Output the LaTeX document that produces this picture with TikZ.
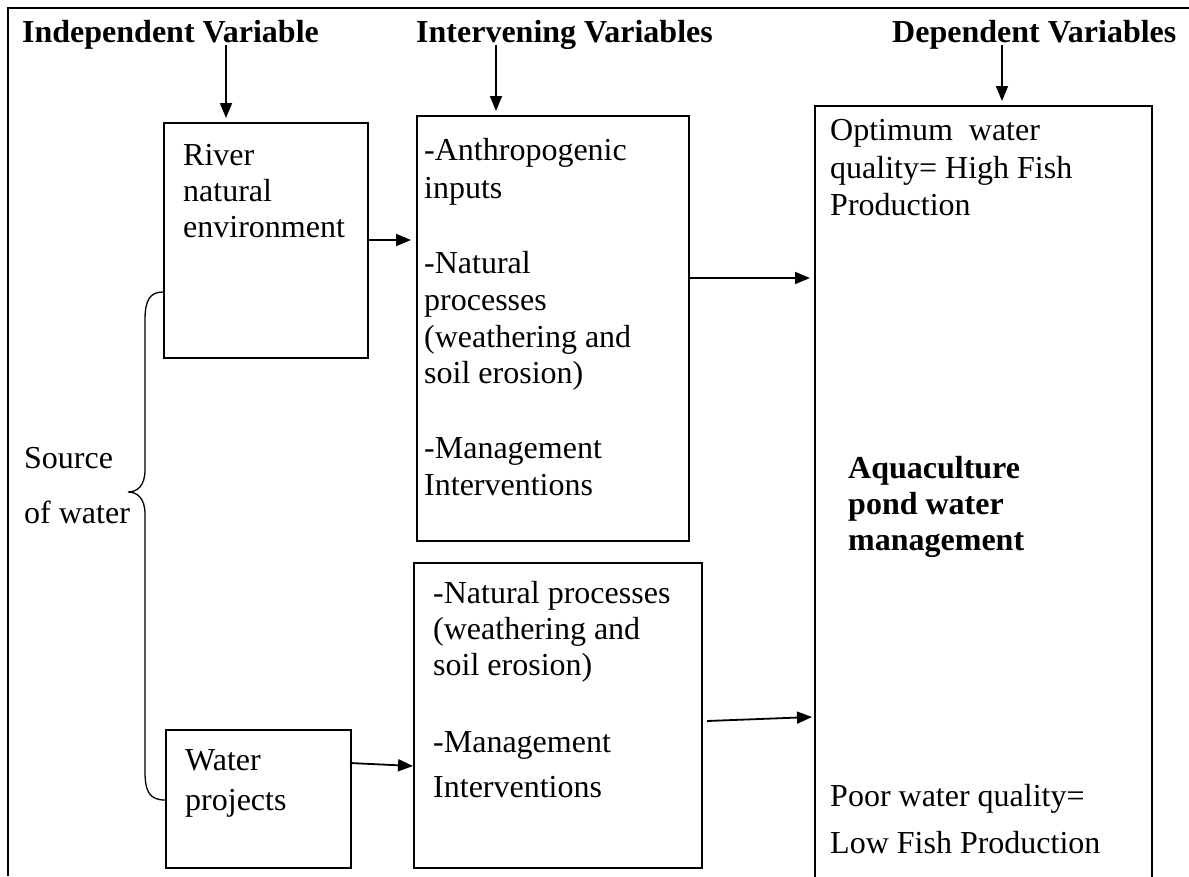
\documentclass[tikz,border=0pt]{standalone}
\usepackage{fontspec}
\setmainfont{Liberation Serif}
\usetikzlibrary{arrows.meta}
\begin{document}
\begin{tikzpicture}[x=1pt,y=-1pt,
  box/.style={draw, line width=1.5pt, inner sep=0pt, anchor=north west},
  txt/.style={anchor=base west, inner sep=0pt, font=\fontsize{32}{37}\selectfont},
  bt/.style={txt, font=\fontsize{32}{37}\selectfont\bfseries},
  arr/.style={line width=1.8pt, -{Triangle[length=15pt,width=12pt]}},
  frame/.style={line width=2pt}]
\useasboundingbox (0,0) rectangle (1189,876);
% outer frame
\draw[frame] (8,876) -- (8,8) -- (1189,8);
% headers
\node[bt] (h1) at (22,42) {Independent Variable};
\node[bt] (h2) at (416,42) {Intervening Variables};
\node[bt] (h3) at (892,42) {Dependent Variables};
% boxes
\node[box, minimum width=204pt, minimum height=235pt] (rb) at (163,122) {};
\node[box, minimum width=185pt, minimum height=138pt] (wp) at (165,729) {};
\node[box, minimum width=272pt, minimum height=425pt] (ib1) at (416,115) {};
\node[box, minimum width=288pt, minimum height=305pt] (ib2) at (413,562) {};
\node[box, minimum width=337pt, minimum height=790pt] (dv) at (814,105) {};
% texts
\node[txt] (t1) at (183,165) {River};
\node[txt] (t2) at (183,201) {natural};
\node[txt] (t3) at (183,237) {environment};
\node[txt] (t4) at (185,770) {Water};
\node[txt] (t5) at (185,810) {projects};
\node[txt] (s1) at (24,468) {Source};
\node[txt] (s2) at (24,523) {of water};
\node[txt] (i1) at (424,160) {-Anthropogenic};
\node[txt] (i2) at (424,198) {inputs};
\node[txt] (i3) at (424,273) {-Natural};
\node[txt] (i4) at (424,310) {processes};
\node[txt] (i5) at (424,347) {(weathering and};
\node[txt] (i6) at (424,383) {soil erosion)};
\node[txt] (i7) at (424,458) {-Management};
\node[txt] (i8) at (424,495) {Interventions};
\node[txt] (j1) at (433,603) {-Natural processes};
\node[txt] (j2) at (433,639) {(weathering and};
\node[txt] (j3) at (433,675) {soil erosion)};
\node[txt] (j4) at (433,752) {-Management};
\node[txt] (j5) at (433,797) {Interventions};
\node[txt] (d1) at (830,140) {Optimum\ \ water};
\node[txt] (d2) at (830,178) {quality= High Fish};
\node[txt] (d3) at (830,215) {Production};
\node[bt] (d4) at (848,478) {Aquaculture};
\node[bt] (d5) at (848,514) {pond water};
\node[bt] (d6) at (848,550) {management};
\node[txt] (d7) at (830,806) {Poor water quality=};
\node[txt] (d8) at (830,853) {Low Fish Production};
% header arrows
\coordinate (c1) at (226,45);
\coordinate (c2) at (496,45);
\coordinate (c3) at (1002,45);
\draw[arr, shorten >=4pt] (c1) -- (c1 |- rb.north);
\draw[arr, shorten >=4pt] (c2) -- (c2 |- ib1.north);
\draw[arr, shorten >=4pt] (c3) -- (c3 |- dv.north);
% connectors
\coordinate (c4) at (367,240);
\draw[arr, shorten >=5pt] (c4) -- (c4 -| ib1.west);
\coordinate (c5) at (688,278);
\draw[arr, shorten >=4pt] (c5) -- (c5 -| dv.west);
\coordinate (c6) at (350,763);
\coordinate (c6e) at (413,766);
\draw[arr] (c6) -- (c6e);
\coordinate (c7) at (707,721);
\coordinate (c7e) at (812,717);
\draw[arr] (c7) -- (c7e);
% brace
\draw[line width=1.3pt] (rb.west |- 0,292) .. controls (150,292) and (145,300) .. (145,320)
  -- (145,470) .. controls (145,486) and (137,492) .. (128,492)
  .. controls (137,492) and (145,498) .. (145,514)
  -- (145,772) .. controls (145,792) and (150,800) .. (wp.west |- 0,800);
\end{tikzpicture}
\end{document}
